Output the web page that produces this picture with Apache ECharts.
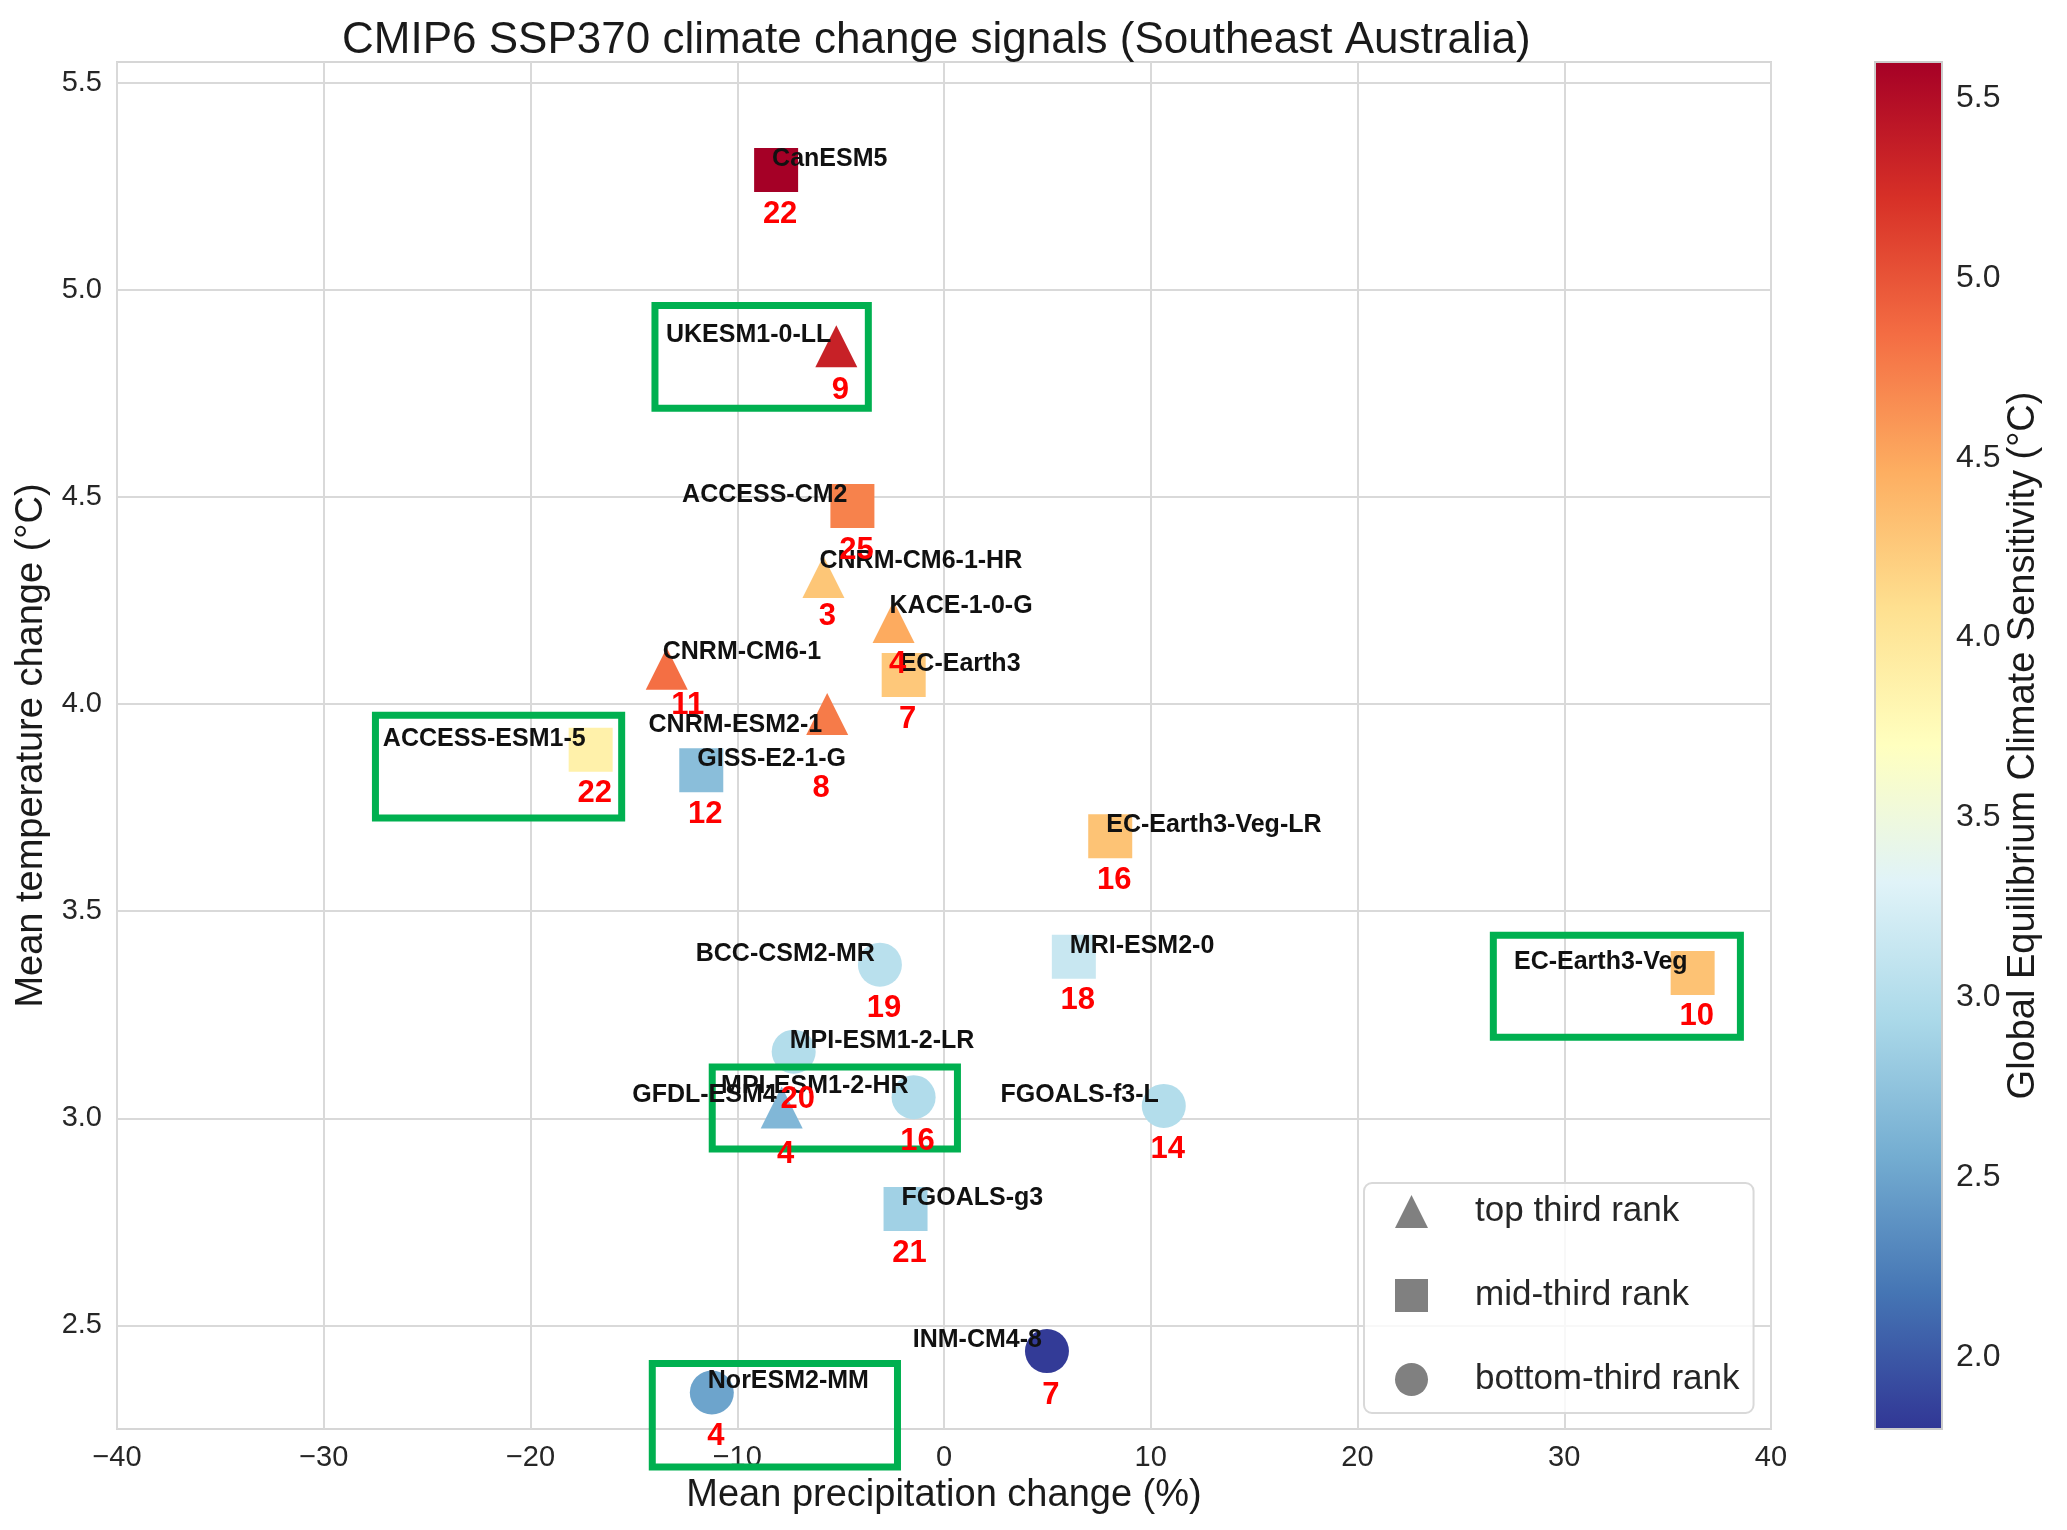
<!DOCTYPE html>
<html>
<head>
<meta charset="utf-8">
<title>CMIP6 SSP370 climate change signals</title>
<script src="https://cdn.jsdelivr.net/npm/echarts@6.0.0/dist/echarts.min.js"></script>
<style>
  html, body { margin: 0; padding: 0; background: #fff; }
  #chart { width: 2067px; height: 1530px; }
</style>
</head>
<body>
<div id="chart"></div>
<script>
// model data
var models = ['CanESM5', 'UKESM1-0-LL', 'ACCESS-CM2', 'CNRM-CM6-1-HR', 'KACE-1-0-G', 'EC-Earth3',
  'CNRM-CM6-1', 'CNRM-ESM2-1', 'ACCESS-ESM1-5', 'GISS-E2-1-G', 'EC-Earth3-Veg-LR', 'MRI-ESM2-0',
  'EC-Earth3-Veg', 'BCC-CSM2-MR', 'MPI-ESM1-2-LR', 'MPI-ESM1-2-HR', 'GFDL-ESM4', 'FGOALS-f3-L',
  'FGOALS-g3', 'INM-CM4-8', 'NorESM2-MM'];
var precipChange = [-8.12, -5.21, -4.43, -5.83, -2.44, -1.95, -13.41, -5.65, -17.09, -11.74, 8.04, 6.28,
  36.21, -3.10, -7.27, -1.47, -7.85, 10.63, -1.86, 4.98, -11.23];
var tempChange = [5.289, 4.864, 4.478, 4.307, 4.198, 4.070, 4.085, 3.976, 3.890, 3.840, 3.681, 3.390,
  3.351, 3.371, 3.161, 3.051, 3.026, 3.030, 2.781, 2.438, 2.338];
var ecs = [5.64, 5.34, 4.72, 4.28, 4.48, 4.26, 4.83, 4.76, 3.87, 2.71, 4.30, 3.15,
  4.31, 3.04, 3.00, 2.98, 2.65, 3.00, 2.87, 1.83, 2.50];
var rank = [22, 9, 25, 3, 4, 7, 11, 8, 22, 12, 16, 18, 10, 19, 20, 16, 4, 14, 21, 7, 4];
var rankGroup = ['mid', 'top', 'mid', 'top', 'top', 'mid', 'top', 'top', 'mid', 'mid', 'mid', 'mid',
  'mid', 'bottom', 'bottom', 'bottom', 'top', 'bottom', 'mid', 'bottom', 'bottom'];
var groupNames = { top: 'top third rank', mid: 'mid-third rank', bottom: 'bottom-third rank' };
var groupSymbols = { top: 'triangle', mid: 'rect', bottom: 'circle' };

// highlighted boxes [x1, y1, x2, y2] in data units
var boxes = [
  [-13.98, 4.714, -3.66, 4.962],
  [-27.50, 3.725, -15.59, 3.973],
  [-11.21, 2.926, 0.65, 3.124],
  [26.57, 3.196, 38.52, 3.442],
  [-14.11, 2.158, -2.25, 2.408]
];

var xTicks = [-40, -30, -20, -10, 0, 10, 20, 30, 40];
var yTicks = [2.5, 3.0, 3.5, 4.0, 4.5, 5.0, 5.5];
var cbTicks = [2.0, 2.5, 3.0, 3.5, 4.0, 4.5, 5.0, 5.5];
var cbMin = 1.8, cbMax = 5.6;
// RdYlBu reversed
var cmap = ['#313695', '#4575b4', '#74add1', '#abd9e9', '#e0f3f8', '#ffffbf',
  '#fee090', '#fdae61', '#f46d43', '#d73027', '#a50026'];

// label placement: side of the name and a few hand tweaks
var nameSide = ['L', 'R', 'R', 'L', 'L', 'L', 'L', 'R', 'R', 'L', 'L', 'L', 'R', 'R', 'L', 'R', 'R', 'R', 'L', 'R', 'L'];
var nameDyFix = { 'CNRM-CM6-1-HR': -16, 'KACE-1-0-G': -16, 'CNRM-CM6-1': -17, 'CNRM-ESM2-1': 11, 'GFDL-ESM4': -12 };
var rankDyFix = { 'CNRM-CM6-1-HR': 40, 'KACE-1-0-G': 42, 'CNRM-CM6-1': 37, 'CNRM-ESM2-1': 74, 'MPI-ESM1-2-LR': 48, 'GFDL-ESM4': 47 };
var rankDxFix = { 'CNRM-CM6-1': 21, 'CNRM-ESM2-1': -6 };

var FONT = '"Liberation Sans", Arial, sans-serif';

function fmtNum(v) {
  return v < 0 ? '\u2212' + Math.abs(v) : String(v);
}

var chart = echarts.init(document.getElementById('chart'), null, { renderer: 'canvas' });

var series = [];
['top', 'mid', 'bottom'].forEach(function (g) {
  var d = [];
  for (var i = 0; i < models.length; i++) {
    if (rankGroup[i] !== g) continue;
    d.push({ name: models[i], value: [precipChange[i], tempChange[i], ecs[i]] });
  }
  series.push({
    name: groupNames[g],
    type: 'scatter',
    symbol: groupSymbols[g],
    symbolSize: g === 'top' ? 42 : 44,
    itemStyle: { opacity: 1 },
    data: d,
    z: 3,
    silent: true
  });
});

var nameData = [], rankData = [];
for (var i = 0; i < models.length; i++) {
  var left = nameSide[i] === 'L';
  var ndy = nameDyFix[models[i]] !== undefined ? nameDyFix[models[i]] : -11;
  var rdy = rankDyFix[models[i]] !== undefined ? rankDyFix[models[i]] : 44;
  var rdx = rankDxFix[models[i]] !== undefined ? rankDxFix[models[i]] : 4;
  nameData.push({
    name: models[i],
    value: [precipChange[i], tempChange[i]],
    label: { align: left ? 'left' : 'right', offset: [left ? -4 : -5, ndy] }
  });
  rankData.push({
    name: String(rank[i]),
    value: [precipChange[i], tempChange[i]],
    label: { offset: [rdx, rdy] }
  });
}

series.push({
  name: 'names',
  type: 'scatter',
  symbolSize: 1,
  itemStyle: { color: '#000', opacity: 0 },
  data: nameData,
  z: 6,
  silent: true,
  label: {
    show: true, position: 'inside', formatter: '{b}', verticalAlign: 'middle', opacity: 1,
    fontFamily: FONT, fontWeight: 'bold', fontSize: 25, color: '#111111'
  }
});
series.push({
  name: 'ranks',
  type: 'scatter',
  symbolSize: 1,
  itemStyle: { color: '#000', opacity: 0 },
  data: rankData,
  z: 6,
  silent: true,
  label: {
    show: true, position: 'inside', formatter: '{b}', align: 'center', verticalAlign: 'middle', opacity: 1,
    fontFamily: FONT, fontWeight: 'bold', fontSize: 31, color: '#ff0000'
  }
});

series.push({
  name: 'boxes',
  type: 'custom',
  clip: false,
  z: 5,
  silent: true,
  encode: { x: [0, 2], y: [1, 3] },
  data: boxes,
  renderItem: function (params, api) {
    var p1 = api.coord([api.value(0), api.value(3)]);
    var p2 = api.coord([api.value(2), api.value(1)]);
    return {
      type: 'rect',
      shape: { x: p1[0], y: p1[1], width: p2[0] - p1[0], height: p2[1] - p1[1] },
      style: { fill: 'none', stroke: '#00b050', lineWidth: 7 }
    };
  }
});

// colour bar drawn in its own grid
series.push({
  name: 'colorbar',
  type: 'custom',
  xAxisIndex: 1,
  yAxisIndex: 1,
  silent: true,
  data: [[0, cbMin, 1, cbMax]],
  encode: { x: [0, 2], y: [1, 3] },
  renderItem: function (params, api) {
    var p1 = api.coord([api.value(0), api.value(3)]);
    var p2 = api.coord([api.value(2), api.value(1)]);
    var stops = cmap.map(function (c, k) { return { offset: k / (cmap.length - 1), color: c }; });
    return {
      type: 'rect',
      shape: { x: p1[0], y: p1[1], width: p2[0] - p1[0], height: p2[1] - p1[1] },
      style: { fill: new echarts.graphic.LinearGradient(0, 1, 0, 0, stops), stroke: '#cccccc', lineWidth: 2 }
    };
  }
});

var option = {
  backgroundColor: '#ffffff',
  animation: false,
  title: {
    text: 'CMIP6 SSP370 climate change signals (Southeast Australia)',
    left: 342,
    top: 19,
    padding: 0,
    textStyle: { fontFamily: FONT, fontSize: 44, fontWeight: 'normal', color: '#1a1a1a' }
  },
  grid: [
    { left: 117, right: 296, top: 62, bottom: 101, show: true, borderColor: '#d6d6d6', borderWidth: 2, backgroundColor: 'transparent' },
    { left: 1875, width: 67, top: 62, bottom: 101 }
  ],
  xAxis: [{
    type: 'value', min: -40, max: 40, interval: 10,
    name: 'Mean precipitation change (%)', nameLocation: 'middle', nameGap: 42,
    nameTextStyle: { fontFamily: FONT, fontSize: 38, color: '#1a1a1a' },
    axisLine: { show: false }, axisTick: { show: false },
    axisLabel: { fontFamily: FONT, fontSize: 29, color: '#262626', margin: 14, formatter: fmtNum },
    splitLine: { show: true, lineStyle: { color: '#d9d9d9', width: 2 } }
  }, {
    type: 'value', gridIndex: 1, min: 0, max: 1, show: false
  }],
  yAxis: [{
    type: 'value', min: 2.25, max: 5.55,
    name: 'Mean temperature change (\u00b0C)', nameLocation: 'middle', nameGap: 58, nameRotate: 90,
    nameTextStyle: { fontFamily: FONT, fontSize: 38, color: '#1a1a1a' },
    axisLine: { show: false },
    axisTick: { show: false, customValues: yTicks },
    axisLabel: { customValues: yTicks, fontFamily: FONT, fontSize: 29, color: '#262626', margin: 15,
      formatter: function (v) { return v.toFixed(1); } },
    splitLine: { show: true, lineStyle: { color: '#d9d9d9', width: 2 } }
  }, {
    type: 'value', gridIndex: 1, position: 'right', min: cbMin, max: cbMax,
    name: 'Global Equilibrium Climate Sensitivity (\u00b0C)', nameLocation: 'middle', nameGap: 63, nameRotate: 90,
    nameTextStyle: { fontFamily: FONT, fontSize: 38, color: '#1a1a1a' },
    axisLine: { show: false },
    axisTick: { show: true, length: 8, customValues: cbTicks, lineStyle: { color: '#333333', width: 2 } },
    axisLabel: { customValues: cbTicks, fontFamily: FONT, fontSize: 32, color: '#262626', margin: 14,
      formatter: function (v) { return v.toFixed(1); } },
    splitLine: { show: false }
  }],
  visualMap: {
    type: 'continuous', show: false, min: cbMin, max: cbMax, dimension: 2,
    seriesIndex: [0, 1, 2], inRange: { color: cmap }
  },
  legend: {
    orient: 'vertical', left: 1364, top: 1183,
    padding: [11, 14, 16, 31],
    itemWidth: 33, itemHeight: 33, itemGap: 49,
    backgroundColor: 'rgba(255,255,255,0.8)',
    borderColor: '#d9d9d9', borderWidth: 2, borderRadius: 8,
    selectedMode: false,
    textStyle: { fontFamily: FONT, fontSize: 35, color: '#262626', padding: [0, 0, 0, 42] },
    data: [
      { name: 'top third rank', icon: 'triangle', itemStyle: { color: '#808080', opacity: 1 } },
      { name: 'mid-third rank', icon: 'rect', itemStyle: { color: '#808080', opacity: 1 } },
      { name: 'bottom-third rank', icon: 'circle', itemStyle: { color: '#808080', opacity: 1 } }
    ]
  },
  series: series
};

chart.setOption(option);
</script>
</body>
</html>
